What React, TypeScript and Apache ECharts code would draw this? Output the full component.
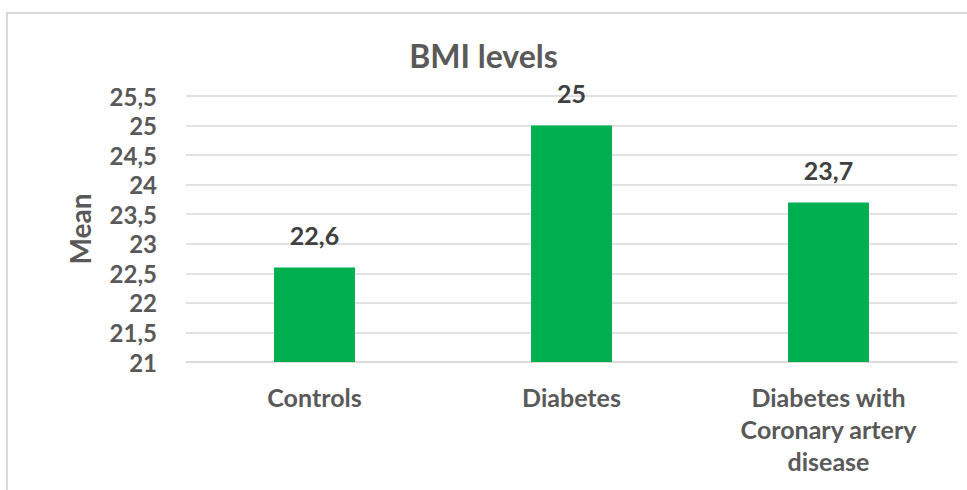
import React, { useEffect, useRef } from "react";
import * as echarts from "echarts";

const categories = ["Controls", "Diabetes", "Diabetes with\nCoronary artery\ndisease"];
const bmiMeans = [22.6, 25, 23.7];
const yMin = 21;
const yMax = 25.5;
const yStep = 0.5;

const FONT = "Lato, 'Open Sans', sans-serif";
const comma = (v: number) => String(v).replace(".", ",");

export default function App() {
  const ref = useRef<HTMLDivElement>(null);

  useEffect(() => {
    if (!ref.current) return;
    const chart = echarts.init(ref.current, undefined, { renderer: "svg" });
    chart.setOption({
      animation: false,
      backgroundColor: "#ffffff",
      title: {
        text: "BMI levels",
        left: "center",
        top: 34,
        textStyle: { fontFamily: FONT, fontSize: 32, fontWeight: "bold", color: "#595959" },
      },
      graphic: [
        {
          type: "rect",
          shape: { x: 7, y: 13, width: 1000, height: 520 },
          style: { fill: "none", stroke: "#d9d9d9", lineWidth: 2 },
          silent: true,
        },
      ],
      grid: { left: 186, right: 10, top: 96, bottom: 128 },
      xAxis: {
        type: "category",
        data: categories,
        axisLine: { lineStyle: { color: "#d9d9d9", width: 1.5 } },
        axisTick: { show: false },
        axisLabel: {
          margin: 19,
          fontFamily: FONT,
          fontSize: 25,
          fontWeight: "bold",
          color: "#595959",
          lineHeight: 32,
          interval: 0,
        },
      },
      yAxis: {
        type: "value",
        min: yMin,
        max: yMax,
        interval: yStep,
        name: "Mean",
        nameLocation: "middle",
        nameGap: 92,
        nameTextStyle: { fontFamily: FONT, fontSize: 28, fontWeight: "bold", color: "#595959" },
        axisLine: { show: false },
        axisTick: { show: false },
        splitLine: { lineStyle: { color: "#d9d9d9", width: 1.5 } },
        axisLabel: {
          margin: 29,
          fontFamily: FONT,
          fontSize: 24,
          lineHeight: 24,
          fontWeight: "bold",
          color: "#595959",
          formatter: (v: number) => comma(v),
        },
      },
      series: [
        {
          type: "bar",
          data: bmiMeans,
          barWidth: "31.5%",
          itemStyle: { color: "#00b050" },
          label: {
            show: true,
            position: "top",
            distance: 20,
            fontFamily: FONT,
            fontSize: 25,
            fontWeight: "bold",
            color: "#404040",
            formatter: (p: any) => comma(p.value),
          },
        },
      ],
    });
    return () => chart.dispose();
  }, []);

  return (
    <div
      ref={ref}
      style={{ position: "fixed", left: 0, top: 0, width: 967, height: 490 }}
    />
  );
}
